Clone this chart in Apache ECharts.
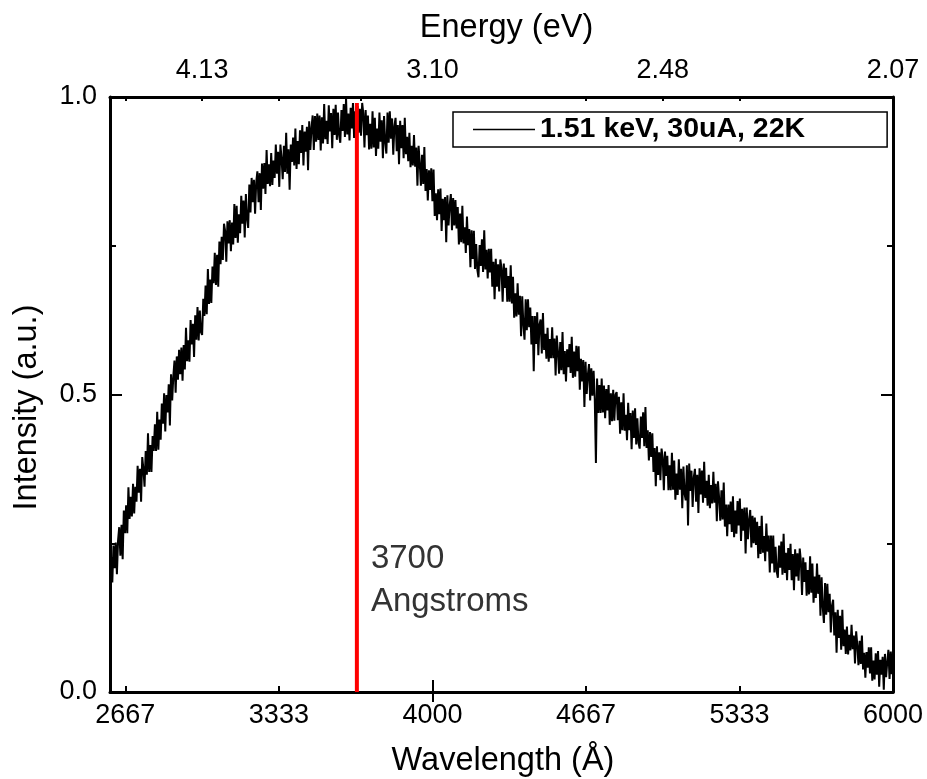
<!DOCTYPE html>
<html>
<head>
<meta charset="utf-8">
<script src="https://cdn.jsdelivr.net/npm/echarts@6/dist/echarts.min.js"></script>
<style>html,body{margin:0;padding:0;background:#fff}#c{width:927px;height:779px}</style>
</head>
<body>
<div id="c"></div>
<script>
// ---- data ----
const WAVELENGTH_START = 2600;   // Å, first sample
const WAVELENGTH_STEP = 5;       // Å between samples
const intensity = [
  // 2600–2695
  .150,.227,.184,.246,.208,.251,.198,.255,.277,.229,.281,.223,.305,.267,.314,.267,.344,.291,.328,.295,
  // 2700–2795
  .350,.300,.345,.320,.380,.335,.375,.320,.395,.375,.345,.405,.365,.435,.370,.415,.370,.430,.405,.450,
  // 2800–2895
  .405,.471,.407,.458,.424,.485,.451,.502,.438,.499,.470,.517,.448,.534,.490,.531,.557,.503,.564,.525,
  // 2900–2995
  .575,.534,.579,.523,.583,.542,.612,.556,.591,.555,.625,.584,.619,.563,.633,.592,.647,.591,.641,.605,
  // 3000–3095
  .600,.661,.632,.683,.635,.711,.652,.693,.654,.715,.687,.738,.684,.735,.681,.757,.719,.765,.726,.787,
  // 3100–3195
  .775,.723,.791,.754,.793,.741,.789,.752,.820,.763,.817,.755,.803,.771,.834,.787,.826,.764,.837,.795,
  // 3200–3295
  .780,.853,.806,.864,.823,.861,.804,.857,.875,.823,.872,.810,.888,.846,.889,.837,.911,.854,.887,.850,
  // 3300–3395
  .906,.852,.893,.864,.920,.871,.908,.849,.920,.896,.862,.918,.874,.940,.871,.912,.844,.920,.891,.932,
  // 3400–3495
  .885,.947,.879,.926,.887,.944,.906,.953,.885,.942,.908,.950,.877,.959,.911,.948,.969,.911,.968,.925,
  // 3500–3595
  .972,.928,.969,.910,.966,.922,.988,.929,.960,.921,.986,.942,.973,.914,.980,.936,.987,.928,.974,.935,
  // 3600–3695
  .923,.978,.943,.988,.933,.998,.937,.972,.927,.982,.947,.990,.931,.976,.916,.985,.940,.980,.935,.990,
  // 3700–3795
  .972,.915,.978,.936,.969,.912,.955,.913,.976,.915,.965,.901,.947,.913,.974,.925,.961,.897,.968,.924,
  // 3800–3895
  .905,.974,.923,.976,.930,.964,.903,.951,.965,.909,.953,.887,.960,.914,.953,.897,.965,.904,.933,.892,
  // 3900–3995
  .940,.882,.918,.885,.936,.883,.915,.851,.918,.889,.851,.903,.854,.916,.842,.879,.826,.877,.844,.880,
  // 4000–4095
  .825,.878,.800,.838,.793,.845,.803,.846,.775,.829,.793,.832,.756,.835,.784,.818,.837,.776,.830,.784,
  // 4100–4195
  .827,.779,.815,.752,.804,.756,.817,.754,.781,.738,.799,.751,.778,.714,.776,.728,.775,.711,.753,.710,
  // 4200–4295
  .697,.751,.716,.761,.706,.776,.710,.743,.695,.745,.705,.745,.681,.723,.660,.728,.681,.719,.673,.727,
  // 4300–4395
  .712,.656,.720,.679,.713,.656,.699,.656,.717,.653,.698,.629,.670,.631,.687,.634,.666,.598,.665,.617,
  // 4400–4495
  .592,.660,.608,.660,.613,.646,.584,.632,.539,.632,.585,.638,.566,.618,.626,.569,.637,.575,.602,.560,
  // 4500–4595
  .612,.555,.593,.561,.613,.561,.594,.532,.599,.572,.535,.588,.541,.605,.534,.573,.522,.576,.546,.585,
  // 4600–4695
  .536,.597,.528,.572,.530,.582,.539,.581,.508,.560,.522,.558,.479,.555,.501,.533,.551,.490,.544,.498,
  // 4700–4795
  .540,.493,.385,.527,.469,.516,.469,.527,.470,.515,.460,.509,.473,.516,.449,.502,.455,.508,.456,.500,
  // 4800–4895
  .504,.457,.496,.434,.487,.440,.502,.439,.466,.423,.486,.440,.469,.408,.473,.427,.477,.416,.460,.419,
  // 4900–4995
  .409,.463,.427,.470,.413,.479,.410,.440,.389,.437,.395,.435,.370,.410,.346,.413,.365,.403,.356,.409,
  // 5000–5095
  .394,.339,.404,.363,.397,.339,.381,.339,.402,.340,.389,.323,.367,.331,.391,.340,.375,.309,.379,.333,
  // 5100–5195
  .322,.381,.280,.384,.338,.372,.311,.361,.375,.320,.365,.301,.376,.332,.372,.318,.387,.326,.355,.313,
  // 5200–5295
  .365,.309,.348,.317,.370,.318,.350,.287,.354,.326,.288,.339,.290,.352,.278,.315,.262,.315,.282,.320,
  // 5300–5395
  .269,.329,.260,.305,.266,.321,.280,.325,.254,.308,.271,.310,.233,.310,.257,.289,.306,.243,.296,.250,
  // 5400–5495
  .293,.247,.286,.225,.279,.232,.296,.234,.262,.220,.283,.236,.263,.201,.263,.216,.263,.201,.244,.203,
  // 5500–5595
  .192,.246,.209,.253,.197,.266,.200,.234,.188,.242,.205,.249,.188,.232,.171,.240,.194,.233,.187,.241,
  // 5600–5695
  .220,.163,.226,.185,.218,.162,.205,.164,.228,.167,.216,.150,.194,.158,.216,.165,.197,.128,.193,.142,
  // 5700–5795
  .116,.183,.130,.182,.134,.165,.100,.145,.155,.095,.134,.066,.138,.091,.128,.071,.138,.077,.105,.064,
  // 5800–5895
  .110,.063,.096,.070,.113,.072,.095,.048,.102,.079,.045,.086,.047,.095,.038,.066,.024,.067,.041,.075,
  // 5900–5995
  .031,.075,.019,.053,.021,.065,.029,.069,.009,.054,.029,.059,.004,.064,.025,.050,.071,.022,.068,.030,
  // 6000
  .070
];
const seriesName = '1.51 keV, 30uA, 22K';

// axis ticks / labels
const X_MIN = 2600, X_MAX = 6000;
const wavelengthLabelValues = [2666.67, 3333.33, 4000, 4666.67, 5333.33, 6000];
const wavelengthMinorTicks = [2666.67, 3333.33, 4666.67, 5333.33];
const wavelengthMajorTicks = [4000];
const energyLabelValues = [3000, 4000, 5000, 6000];
const energyLabels = ['4.13', '3.10', '2.48', '2.07'];
const energyMinorTicks = [2666.67, 3000, 3333.33, 3690, 4666.67, 5000, 5333.33];
const energyMajorTicks = [4000];

// red marker line and its note
const markerWavelength = 3672;
const markerTop = 0.99;
const markerLabelY = 0.187;
const markerText = ['3700', 'Angstroms'];

// ---- chart ----
const FONT = "'Liberation Sans', Arial, sans-serif";
const black = '#000';
const axisLineStyle = {show: true, onZero: false, lineStyle: {color: black, width: 3}};
const tickLine = {color: black, width: 2};
const TITLE_SIZE = 32.5, TICK_SIZE = 27;

const chart = echarts.init(document.getElementById('c'), null, {renderer: 'canvas'});
const curve = intensity.map((v, i) => [WAVELENGTH_START + i * WAVELENGTH_STEP, v]);

chart.setOption({
  animation: false,
  backgroundColor: '#fff',
  grid: {left: 110, right: 34, top: 97, bottom: 87, outerBoundsMode: 'none'},
  legend: {
    data: [{name: seriesName, icon: 'rect', itemStyle: {color: black}}],
    left: 453, top: 112,
    padding: [3, 82, 3, 20],
    borderColor: black, borderWidth: 1.5,
    itemWidth: 62, itemHeight: 1.6, itemGap: 5,
    selectedMode: false,
    textStyle: {fontSize: 28.5, fontWeight: 'bold', color: black, fontFamily: FONT}
  },
  xAxis: [
    {
      type: 'value', min: X_MIN, max: X_MAX, position: 'bottom',
      axisLine: axisLineStyle,
      axisTick: {show: true, inside: true, length: 6, customValues: wavelengthMinorTicks, lineStyle: tickLine},
      axisLabel: {customValues: wavelengthLabelValues, formatter: v => String(Math.round(v)),
                  margin: 10, color: black, fontSize: TICK_SIZE, fontFamily: FONT},
      splitLine: {show: false},
      name: 'Wavelength (Å)', nameLocation: 'middle', nameGap: 53,
      nameTextStyle: {fontSize: TITLE_SIZE, color: black, fontFamily: FONT, padding: [0, 0, 0, 3]}
    },
    {
      type: 'value', min: X_MIN, max: X_MAX, position: 'bottom',
      axisLine: {show: false},
      axisTick: {show: true, inside: true, length: 12, customValues: wavelengthMajorTicks, lineStyle: tickLine},
      axisLabel: {show: false}, splitLine: {show: false}
    },
    {
      type: 'value', min: X_MIN, max: X_MAX, position: 'top',
      axisLine: axisLineStyle,
      axisTick: {show: true, inside: true, length: 4, customValues: energyMinorTicks, lineStyle: tickLine},
      axisLabel: {customValues: energyLabelValues,
                  formatter: v => energyLabels[energyLabelValues.indexOf(v)],
                  margin: 13, color: black, fontSize: TICK_SIZE, fontFamily: FONT},
      splitLine: {show: false},
      name: 'Energy (eV)', nameLocation: 'middle', nameGap: 52,
      nameTextStyle: {fontSize: TITLE_SIZE, color: black, fontFamily: FONT, padding: [0, 0, 0, 10]}
    },
    {
      type: 'value', min: X_MIN, max: X_MAX, position: 'top',
      axisLine: {show: false},
      axisTick: {show: true, inside: true, length: 10, customValues: energyMajorTicks, lineStyle: tickLine},
      axisLabel: {show: false}, splitLine: {show: false}
    }
  ],
  yAxis: [
    {
      type: 'value', min: 0, max: 1, interval: 0.5, position: 'left',
      axisLine: axisLineStyle,
      axisTick: {show: true, inside: true, length: 12, lineStyle: tickLine},
      minorTick: {show: true, splitNumber: 2, length: 6, lineStyle: tickLine},
      axisLabel: {formatter: v => v.toFixed(1), margin: 13, color: black, fontSize: TICK_SIZE, fontFamily: FONT},
      splitLine: {show: false}, minorSplitLine: {show: false},
      name: 'Intensity (a.u.)', nameLocation: 'middle', nameGap: 66,
      nameTextStyle: {fontSize: TITLE_SIZE, color: black, fontFamily: FONT, padding: [0, 26, 0, 0]}
    },
    {
      type: 'value', min: 0, max: 1, interval: 0.5, position: 'right',
      axisLine: axisLineStyle,
      axisTick: {show: true, inside: true, length: 12, lineStyle: tickLine},
      minorTick: {show: true, splitNumber: 2, length: 6, lineStyle: tickLine},
      axisLabel: {show: false},
      splitLine: {show: false}, minorSplitLine: {show: false}
    }
  ],
  series: [
    {
      type: 'line', name: seriesName, data: curve,
      xAxisIndex: 0, yAxisIndex: 0,
      symbol: 'none', showSymbol: false,
      lineStyle: {color: black, width: 2},
      itemStyle: {color: black},
      z: 2
    },
    {
      type: 'line', name: 'marker',
      data: [[markerWavelength, 0], [markerWavelength, markerTop]],
      xAxisIndex: 0, yAxisIndex: 0,
      symbol: 'none', showSymbol: false,
      lineStyle: {color: '#ff0000', width: 4},
      itemStyle: {color: '#ff0000'},
      z: 3,
      markPoint: {
        symbol: 'circle', symbolSize: 0,
        data: [{coord: [markerWavelength, markerLabelY]}],
        label: {show: true, position: 'right', distance: 14, align: 'left',
                formatter: markerText.join('\n'),
                fontSize: 33, lineHeight: 43, color: '#333', fontFamily: FONT}
      }
    }
  ]
});
</script>
</body>
</html>
